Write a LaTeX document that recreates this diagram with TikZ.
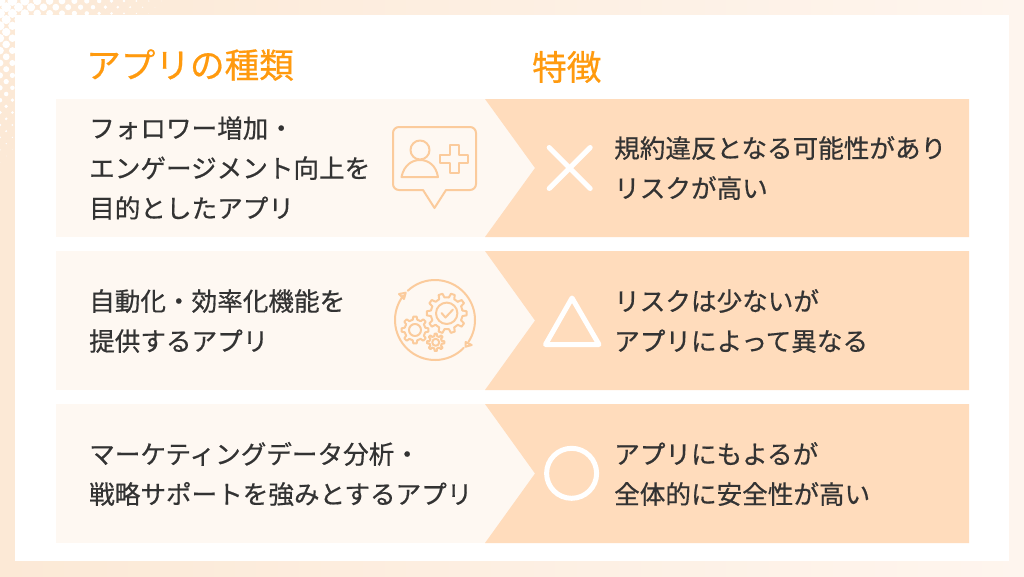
\documentclass[tikz,border=0pt]{standalone}
\usepackage{fontspec}
\setmainfont{Noto Sans CJK JP}
\newfontfamily\bodyfont[FakeBold=0.55]{Noto Sans CJK JP}
\usetikzlibrary{arrows.meta,calc}
\definecolor{bgL}{HTML}{FCE9D6}
\definecolor{bgR}{HTML}{FEF5EE}
\definecolor{rowL}{HTML}{FEF8F2}
\definecolor{rowR}{HTML}{FFDCBC}
\definecolor{iconC}{HTML}{FBCB9C}
\definecolor{titleC}{HTML}{FF9A0E}
\definecolor{bodyC}{HTML}{333333}
\tikzset{
  leftrow/.style={fill=rowL,draw=none},
  rightrow/.style={fill=rowR,draw=none},
  titletext/.style={anchor=west,inner sep=0pt,text=titleC,font=\bodyfont\fontsize{34.6}{40}\selectfont},
  bodytext/.style={anchor=west,inner sep=0pt,align=left,text=bodyC,font=\bodyfont\fontsize{25.6}{40}\selectfont},
  iconline/.style={draw=iconC,line width=2pt,line join=round,line cap=round},
  markline/.style={draw=white,line width=5pt,line join=round,line cap=round},
}
\newcommand{\gearshape}[6]{% cx,cy,outer,root,inner,teeth
  \pgfmathsetmacro{\gstep}{360/#6}
  \pgfmathsetmacro{\gw}{\gstep*0.16}
  \pgfmathsetmacro{\gb}{\gstep*0.28}
  \foreach \gn in {1,...,#6}{
    \pgfmathsetmacro{\gi}{\gn*\gstep}
    \draw[iconline] ($(#1,#2)+(\gi-\gb:#4)$) -- ($(#1,#2)+(\gi-\gw:#3)$) -- ($(#1,#2)+(\gi+\gw:#3)$) -- ($(#1,#2)+(\gi+\gb:#4)$) -- ($(#1,#2)+(\gi+\gstep-\gb:#4)$);
  }
  \draw[iconline] (#1,#2) circle (#5);
}
\begin{document}
\begin{tikzpicture}[x=1pt,y=-1pt]
\useasboundingbox (0,0) rectangle (1024,576);
\shade[left color=bgL,right color=bgR,draw=none,shading angle=90] (0,0) rectangle (1024,576);
% halftone corner
\foreach \ry in {0,...,26}{
  \foreach \cx in {0,...,26}{
    \pgfmathsetmacro{\dx}{\cx*12.4+mod(\ry,2)*6.2}
    \pgfmathsetmacro{\dy}{\ry*6.2+1}
    \pgfmathsetmacro{\rad}{5.4*(1-(\dx+\dy)/172)}
    \pgfmathparse{\rad>0.3 ? 1 : 0}
    \ifnum\pgfmathresult=1
      \fill[white] (\dx,\dy) circle (\rad);
    \fi
  }
}
\fill[white] (15,15) rectangle (1009,561);
% rows
\fill[leftrow] (56,99) rectangle (536,237);
\fill[leftrow] (56,251) rectangle (536,390);
\fill[leftrow] (56,404) rectangle (536,543);
\path[rightrow] (485,99) -- (969,99) -- (969,237) -- (485,237) -- (535,168) -- cycle;
\path[rightrow] (485,251) -- (969,251) -- (969,390) -- (485,390) -- (535,320.5) -- cycle;
\path[rightrow] (485,404) -- (969,404) -- (969,543) -- (485,543) -- (535,473.5) -- cycle;
% titles
\node[titletext] (t1) at (86,65) {アプリの種類};
\node[titletext] (t2) at (532,67) {特徴};
% left text
\node[bodytext] (a1) at (89,168) {フォロワー増加・\\エンゲージメント向上を\\目的としたアプリ};
\node[bodytext] (a2) at (89,321) {自動化・効率化機能を\\提供するアプリ};
\node[bodytext] (a3) at (89,474) {マーケティングデータ分析・\\戦略サポートを強みとするアプリ};
% right text
\node[bodytext] (b1) at (614,168) {規約違反となる可能性があり\\リスクが高い};
\node[bodytext] (b2) at (614,321) {リスクは少ないが\\アプリによって異なる};
\node[bodytext] (b3) at (614,474) {アプリにもよるが\\全体的に安全性が高い};
% marks
\draw[markline] (549.2,147.5) -- (590.2,188.5);
\draw[markline] (590.2,147.5) -- (549.2,188.5);
\draw[markline] (572,298) -- (599,344.5) -- (545.5,344.5) -- cycle;
\draw[markline] (571.6,473.3) circle (25);
% person icon
\draw[iconline] (399,127) -- (470,127) arc (-90:0:6) -- (476,184) arc (0:90:6) -- (446,190) -- (434.5,208) -- (423,190) -- (399,190) arc (90:180:6) -- (393,133) arc (180:270:6) -- cycle;
\draw[iconline] (420,150) circle (9.5);
\draw[iconline] (401.5,177) .. controls (404,165) and (412,160) .. (420,160) .. controls (428,160) and (436,165) .. (438,177) -- cycle;
\draw[iconline] (449.5,145) -- (458.5,145) -- (458.5,155) -- (468,155) -- (468,163) -- (458.5,163) -- (458.5,173) -- (449.5,173) -- (449.5,163) -- (440,163) -- (440,155) -- (449.5,155) -- cycle;
% gear icon
\draw[iconline] ($(435,320)+(-133:40)$) arc (-133:33:40);
\draw[iconline] ($(435,320)+(44:40)$) arc (44:218:40);
\draw[iconline] (399,294) -- (405.7,292.7) -- (404,299) -- cycle;
\draw[iconline] (465.7,342) -- (465.7,346.7) -- (471.7,345) -- cycle;
\gearshape{446.7}{313.3}{20}{16}{10.7}{10}
\draw[iconline] (441.5,313) -- (445.5,317.5) -- (453,309.5);
\gearshape{415}{330}{13.5}{10.5}{6}{8}
\gearshape{435.7}{342.3}{8.7}{6.3}{3.5}{8}
\end{tikzpicture}
\end{document}
